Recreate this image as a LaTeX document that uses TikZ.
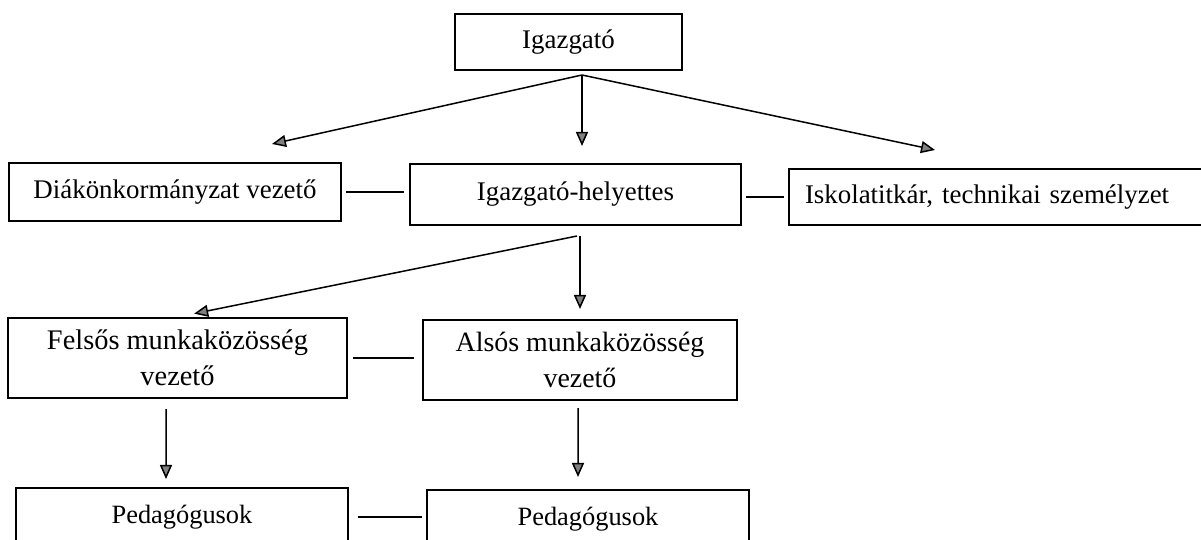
\documentclass[tikz,border=0pt]{standalone}
\usepackage{fontspec}
\setmainfont{Liberation Serif}
\usetikzlibrary{arrows.meta}
\tikzset{
  box/.style={draw, line width=2bp, inner sep=0pt, align=center, font=\fontsize{27}{36}\selectfont},
  arr/.style={line width=1.5bp, -{Triangle[length=14bp,width=12bp,fill=gray]}},
  link/.style={line width=1.5bp},
}
\begin{document}
\begin{tikzpicture}[x=1bp, y=-1bp]
    \useasboundingbox[fill=white] (0,0) rectangle (1201,540);
    % top
    \node[box, minimum width=227bp, minimum height=56bp] (igaz) at (568.5,42) {Igazgató};
    % second row
    \node[box, minimum width=332bp, minimum height=58bp] (diak) at (175,192) {Diákönkormányzat vezető};
    \node[box, minimum width=331bp, minimum height=61bp] (helyettes) at (575.5,194.5) {Igazgató-helyettes};
    \node[box, draw=none, minimum height=54bp, text width=420bp, inner xsep=15bp, align=left] (iskola) at (1015,197) {Iskolatitkár, technikai személyzet};
    \draw[line width=2bp] (iskola.north east) -- (iskola.north west) -- (iskola.south west) -- (iskola.south east);
    % third row
    \node[box, minimum width=339bp, minimum height=80bp, font=\fontsize{28.5}{36}\selectfont] (felsos) at (177.5,358) {Felsős munkaközösség\\vezető};
    \node[box, minimum width=314bp, minimum height=80bp, font=\fontsize{28}{36}\selectfont] (alsos) at (580,360) {Alsós munkaközösség\\vezető};
    % bottom
    \node[box, minimum width=332bp, minimum height=58bp, font=\fontsize{26.5}{30}\selectfont] (ped1) at (182,517) {Pedagógusok};
    \node[box, minimum width=322bp, minimum height=58bp, font=\fontsize{26.5}{30}\selectfont] (ped2) at (588,519) {Pedagógusok};

    \coordinate (igazfoot) at ([xshift=13.5bp, yshift=-4bp]igaz.south);
    \coordinate (helyfoot) at ([xshift=1.5bp, yshift=-10bp]helyettes.south);

    \draw[arr] (igazfoot) -- ([xshift=97bp, yshift=18bp]diak.north);
    \draw[arr, shorten >=17bp] (igazfoot) -- (igazfoot |- helyettes.north);
    \draw[arr] (igazfoot) -- ([xshift=-80bp, yshift=19bp]iskola.north);
    \draw[arr, shorten >=17bp] (helyfoot) -- (felsos.north);
    \draw[arr, shorten >=10bp] (helyfoot -| alsos.north) -- (alsos.north);
    \draw[arr, shorten <=10bp, shorten >=8bp] ([xshift=-11.5bp]felsos.south) -- ([xshift=-16bp]ped1.north);
    \draw[arr, shorten <=7bp, shorten >=12bp] ([xshift=-2bp]alsos.south) -- ([xshift=-10bp]ped2.north);

    \draw[link, shorten <=4bp, shorten >=5bp] (diak) -- (diak -| helyettes.west);
    \draw[link, shorten <=4bp, shorten >=5bp] (helyettes.east |- iskola) -- (iskola.west);
    \draw[link, shorten <=5bp, shorten >=8bp] (felsos) -- (felsos -| alsos.west);
    \draw[link, shorten <=9bp, shorten >=4bp] (ped1) -- (ped1 -| ped2.west);
\end{tikzpicture}
\end{document}
